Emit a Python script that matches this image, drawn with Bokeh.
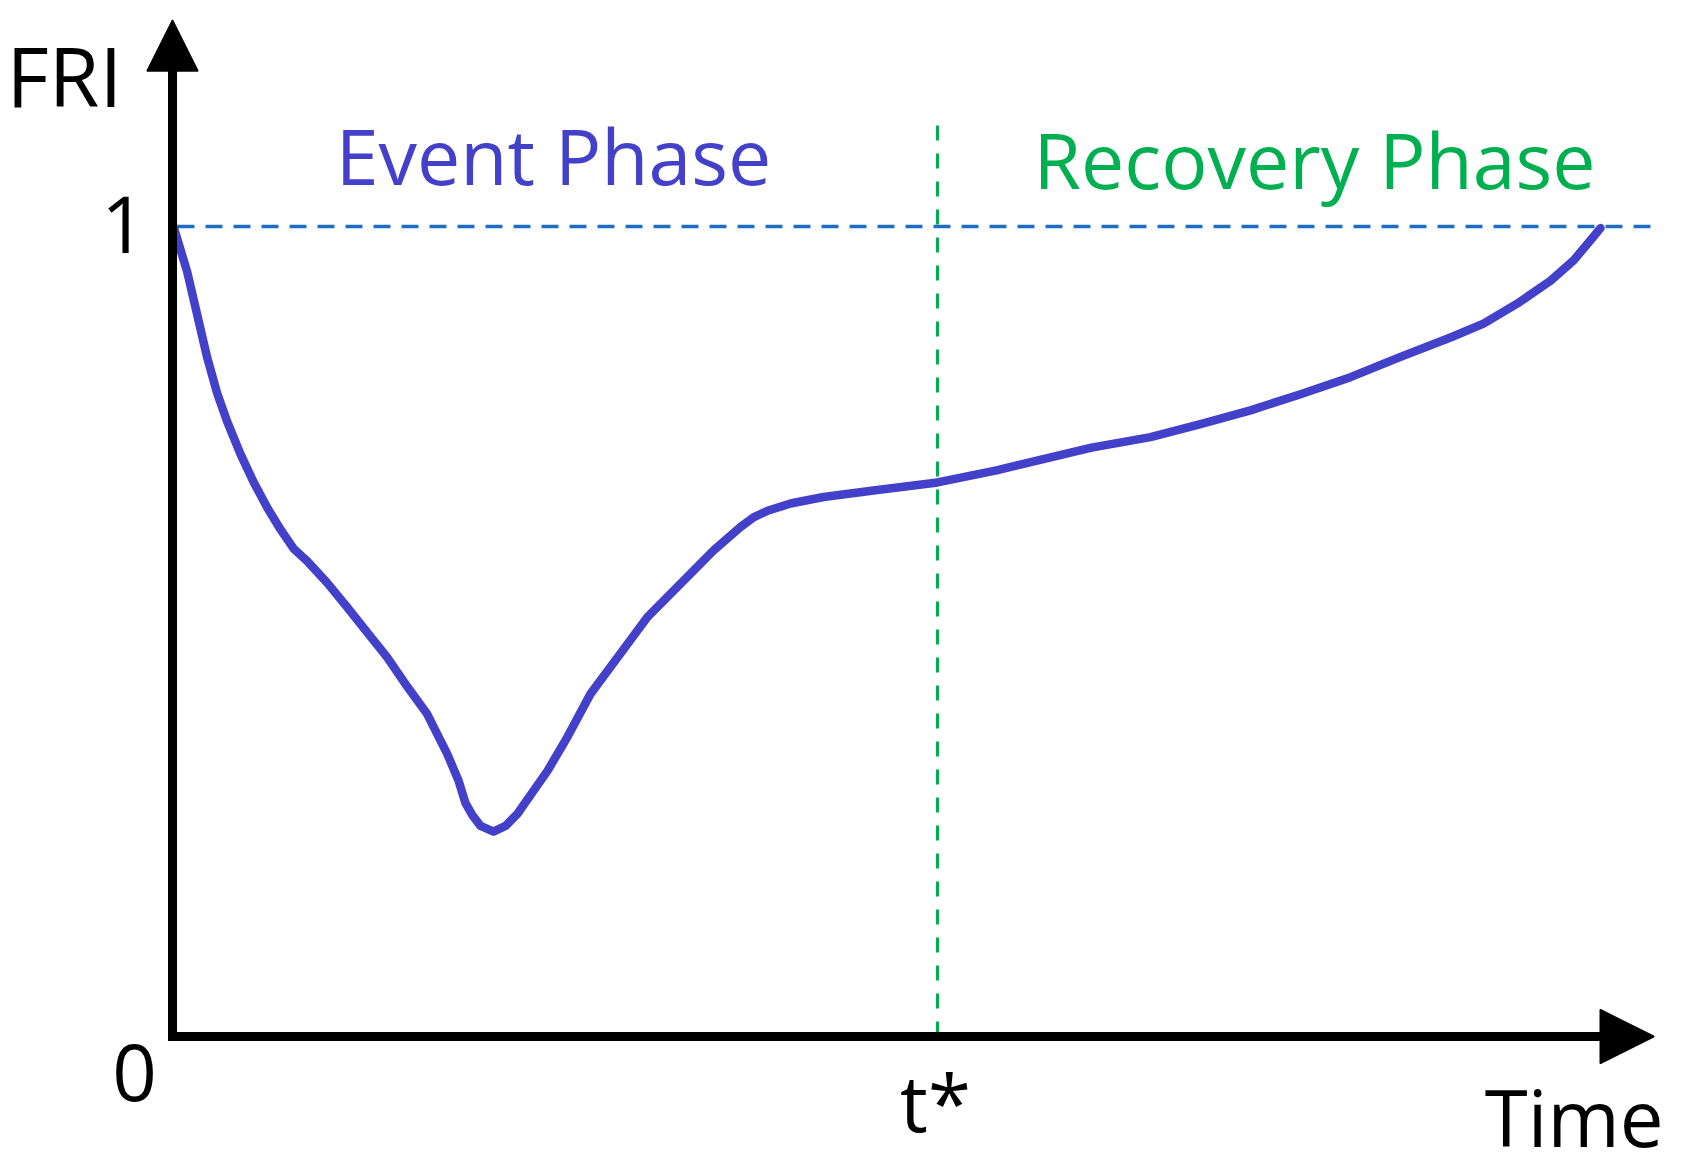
from bokeh.plotting import figure
from bokeh.models import Range1d, Arrow, NormalHead, Label
from bokeh.embed import file_html
from bokeh.resources import INLINE

# ---------------- data ----------------
time = [0.01, 0.147, 0.247, 0.347, 0.447, 0.547, 0.68, 0.813, 0.947, 1.08,
        1.213, 1.347, 1.547, 1.747, 1.947, 2.147, 2.347, 2.547, 2.747, 2.86,
        2.93, 3.00, 3.08, 3.21, 3.33, 3.45, 3.58, 3.75, 3.95, 4.18, 4.45, 4.75,
        5.08, 5.41, 5.68, 5.81, 5.95, 6.18, 6.51, 7.01, 7.65, 8.24, 9.19, 9.78,
        10.28, 10.78, 11.28, 11.78, 12.28, 12.78, 13.11, 13.45, 13.78, 14.01,
        14.18, 14.28]
fri = [1.000, 0.944, 0.891, 0.838, 0.794, 0.759, 0.719, 0.684, 0.653, 0.626,
       0.602, 0.587, 0.560, 0.530, 0.499, 0.468, 0.432, 0.398, 0.349, 0.316,
       0.288, 0.273, 0.260, 0.253, 0.260, 0.275, 0.298, 0.328, 0.370, 0.423,
       0.468, 0.518, 0.559, 0.600, 0.629, 0.641, 0.649, 0.658, 0.666, 0.674,
       0.684, 0.699, 0.727, 0.740, 0.756, 0.773, 0.793, 0.814, 0.839, 0.863,
       0.880, 0.905, 0.933, 0.958, 0.983, 0.998]
t_star = 7.65
fri_full = 1.0
time_axis_end = 14.81
fri_axis_end = 1.254
ref_line_x = [0.05, 14.78]
phase_line_top = 1.14
y_tick_labels = ["0", "1"]
x_tick_label = "t*"
phase_names = ["Event Phase", "Recovery Phase"]

# ---------------- layout ----------------
W, H = 1680, 1171
OFF = 0.0                      # page offset of the canvas
PX0, PY0 = 172.0, 1036.0       # page pixel of the origin
SX, SY = 100.0, 810.0          # pixels per data unit
x0 = -(PX0 - OFF) / SX
x1 = x0 + W / SX
y1 = (PY0 - OFF) / SY
y0 = y1 - H / SY

def px2x(px):
    return (px - PX0) / SX

def py2y(py):
    return (PY0 - py) / SY

p = figure(width=W, height=H, x_range=Range1d(x0, x1), y_range=Range1d(y0, y1),
           output_backend="svg", toolbar_location=None,
           x_axis_location=None, y_axis_location=None,
           min_border=0, min_border_left=0, min_border_right=0,
           min_border_top=0, min_border_bottom=0)
p.grid.visible = False
p.outline_line_color = None
p.background_fill_color = "white"
p.border_fill_color = "white"

BLUE = "#4340C9"
GREEN = "#00B050"
DASHBLUE = "#1E6EC4"
FONT = "Open Sans"

# reference line FRI = 1
p.line(ref_line_x, [fri_full, fri_full], line_color=DASHBLUE, line_width=3.5,
       line_dash="17 11")
# phase separator at t*
p.line([t_star, t_star], [0.0, phase_line_top], line_color=GREEN, line_width=3,
       line_dash="15 13")

# FRI curve
p.line(time, fri, line_color=BLUE, line_width=8.5, line_join="round",
       line_cap="round")

# axes: body as one polyline (square corner), heads as arrow annotations
head_x = 55 / SX
head_y = 50 / SY
p.line([0, 0, time_axis_end - head_x / 2], [fri_axis_end - head_y / 2, 0, 0],
       line_color="black", line_width=9, line_join="miter", line_cap="butt")
p.add_layout(Arrow(x_start=time_axis_end - head_x, y_start=0,
                   x_end=time_axis_end, y_end=0, line_alpha=0,
                   end=NormalHead(size=53, fill_color="black",
                                  line_color="black", line_width=2,
                                  line_join="round")))
p.add_layout(Arrow(x_start=0, y_start=fri_axis_end - head_y,
                   x_end=0, y_end=fri_axis_end, line_alpha=0,
                   end=NormalHead(size=50, fill_color="black",
                                  line_color="black", line_width=2,
                                  line_join="round")))

SHIFT = 28  # label baseline correction (px)

def lab(text, px, py, align, color="black", size="78px"):
    p.add_layout(Label(x=px2x(px), y=py2y(py - SHIFT), text=text,
                       text_align=align, text_baseline="alphabetic",
                       text_color=color, text_font=FONT, text_font_size=size))

lab("FRI", 6, 102, "left", size="82px")
lab(y_tick_labels[1], 123, 252, "center")
lab(y_tick_labels[0], 134, 1100, "center")
lab(x_tick_label, 935, 1129, "center")
lab("Time", 1663, 1144, "right")
lab(phase_names[0], 553, 183, "center", color=BLUE, size="77px")
lab(phase_names[1], 1314, 187, "center", color=GREEN, size="77px")

open("out.html", "w").write(file_html(p, INLINE))
